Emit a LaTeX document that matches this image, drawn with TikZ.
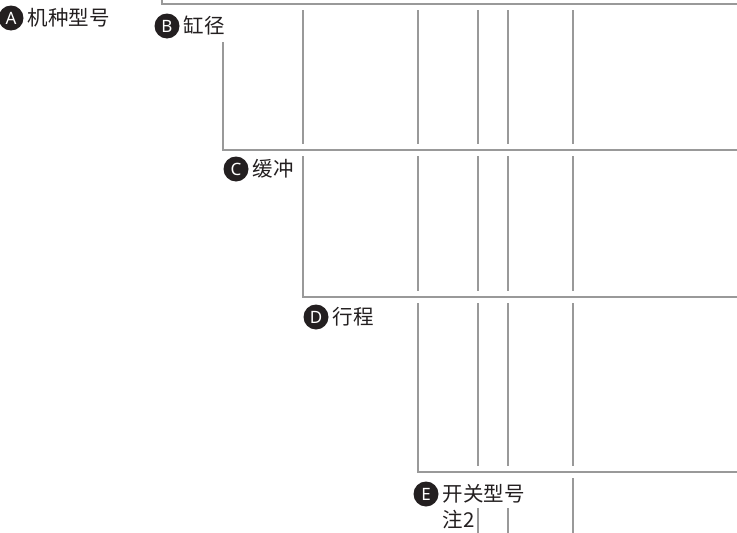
\documentclass[tikz,border=0pt]{standalone}
\usepackage{fontspec}
\newfontfamily\cjk{Noto Sans CJK SC}
\newfontfamily\lat{Noto Sans}
\usetikzlibrary{positioning}
\definecolor{rulegray}{RGB}{153,153,153}
\definecolor{ink}{RGB}{35,31,32}

\begin{document}
\begin{tikzpicture}[x=1pt,y=-1pt,node distance=4pt,
    rule/.style={draw=rulegray,line width=2.5pt},
    badge/.style={circle,fill=ink,text=white,inner sep=0pt,minimum size=25pt,font=\lat\bfseries\fontsize{17}{17}\selectfont},
    lbl/.style={inner sep=0pt,text=ink,font=\cjk\fontsize{20.5}{26}\selectfont}]

      \useasboundingbox (0,0) rectangle (737,533);

      \node[badge]  (b_A) at (11,18)  {A};
      \node[lbl]    (l_A) [right=of b_A] {机种型号};
      \node[badge]  (b_B) at (167,26) {B};
      \node[lbl]    (l_B) [right=of b_B] {缸径};
      \node[badge]  (b_C) at (236,169) {C};
      \node[lbl]    (l_C) [right=of b_C] {缓冲};
      \node[badge]  (b_D) at (316,317) {D};
      \node[lbl]    (l_D) [right=of b_D] {行程};
      \node[badge]  (b_E) at (426,494) {E};
      \node[lbl]    (l_E) [right=of b_E] {开关型号};
      \node[lbl,anchor=west] (n_E) at ([yshift=-26pt]l_E.west) {注2};

      \coordinate (edge) at (737,0);
      \coordinate (c_A) at (162,4);
      \coordinate (c_B) at (223,150);
      \coordinate (c_C) at (303,297);
      \coordinate (c_D) at (418,472);

      \foreach \c/\top in {c_A/0, c_B/42, c_C/156, c_D/303}
        \draw[rule] (\c |- 0,\top) -- (\c) -- (\c -| edge);

      \foreach \ya/\yb/\xs in {4/150/{303,418,478,508,573}, 150/297/{418,478,508,573}, 297/472/{478,508,573}}
        \foreach \x in \xs
          \draw[rule] (\x,{\ya+6}) -- (\x,{\yb-6});

      \draw[rule] (573,478) -- (573,533);
      \foreach \x in {478,508}
        \draw[rule] (\x,508) -- (\x,533);
    \end{tikzpicture}
\end{document}
